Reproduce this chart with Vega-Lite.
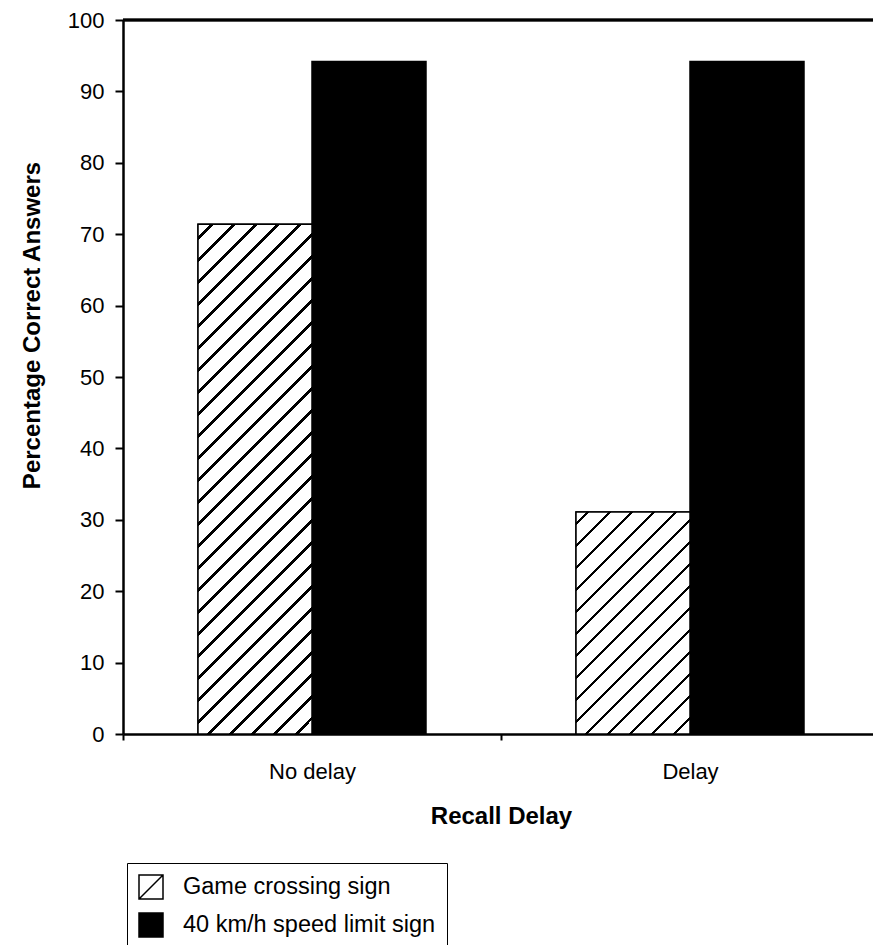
{
  "$schema": "https://vega.github.io/schema/vega-lite/v6.json",
  "width": 750,
  "height": 714,
  "autosize": {"type": "none"},
  "padding": {"left": 123, "top": 20, "right": 0, "bottom": 211},
  "background": "white",
  "config": {
    "view": {"stroke": null},
    "font": "Liberation Sans",
    "axis": {"labelFont": "Liberation Sans", "titleFont": "Liberation Sans", "labelColor": "black", "titleColor": "black", "domainColor": "black", "tickColor": "black", "grid": false},
    "legend": {"labelFont": "Liberation Sans", "labelColor": "black"}
  },
  "data": {
    "values": [
      {"delay": "No delay", "sign": "Game crossing sign", "pct": 71.4},
      {"delay": "No delay", "sign": "40 km/h speed limit sign", "pct": 94.2},
      {"delay": "Delay", "sign": "Game crossing sign", "pct": 31.1},
      {"delay": "Delay", "sign": "40 km/h speed limit sign", "pct": 94.2}
    ]
  },
  "layer": [
    {
      "encoding": {
        "x": {
          "field": "delay", "type": "nominal",
          "scale": {"domain": ["No delay", "Delay"], "range": [0, 756], "paddingInner": 0, "paddingOuter": 0},
          "axis": {"title": "Recall Delay", "titleFontSize": 24, "titleFontWeight": "bold", "titlePadding": 22, "labelFontSize": 22, "labelPadding": 21, "labelAngle": 0, "tickBand": "extent", "tickSize": 6, "tickWidth": 2, "domainWidth": 2.5}
        },
        "xOffset": {
          "field": "sign", "type": "nominal",
          "scale": {"domain": ["Game crossing sign", "40 km/h speed limit sign"], "paddingInner": 0, "paddingOuter": 0.658}
        },
        "y": {
          "field": "pct", "type": "quantitative",
          "scale": {"domain": [0, 100], "nice": false},
          "axis": {"title": "Percentage Correct Answers", "titleFontSize": 24, "titleFontWeight": "bold", "titleX": -79, "titleY": 305, "titleAngle": -90, "titleAlign": "center", "titleBaseline": "bottom", "labelFontSize": 22, "labelPadding": 11, "tickSize": 8, "tickWidth": 2, "domainWidth": 2.5, "values": [0, 10, 20, 30, 40, 50, 60, 70, 80, 90, 100]}
        }
      },
      "layer": [
        {
          "mark": {"type": "bar", "stroke": "black", "strokeWidth": 1.5},
          "encoding": {
            "color": {
              "field": "sign", "type": "nominal",
              "scale": {"domain": ["Game crossing sign", "40 km/h speed limit sign"], "range": ["white", "black"]},
              "legend": {
                "title": null, "orient": "none", "legendX": 4, "legendY": 843,
                "strokeColor": "black", "padding": 11, "rowPadding": 8,
                "symbolSize": 576, "labelFontSize": 23.5, "labelOffset": 19, "labelLimit": 600,
                "symbolStrokeColor": "black", "symbolStrokeWidth": 1.5,
                "encode": {
                  "symbols": {
                    "update": {
                      "shape": {"signal": "datum.value === 'Game crossing sign' ? 'M-1,-1H1V1H-1ZM-1,1L1,-1' : 'square'"},
                      "stroke": {"value": "black"},
                      "strokeWidth": {"value": 1.5},
                      "opacity": {"value": 1}
                    }
                  }
                }
              }
            }
          }
        },
        {
          "transform": [{"filter": "datum.delay === 'No delay' && datum.sign === 'Game crossing sign'"}],
          "mark": {
            "type": "bar", "stroke": "black", "strokeWidth": 1.5,
            "fill": {
              "gradient": "linear", "x1": 0, "y1": 0, "x2": 0.2606, "y2": 1.1653,
              "stops": [
                {"offset": 0.0200, "color": "white"}, {"offset": 0.0200, "color": "black"}, {"offset": 0.0256, "color": "black"}, {"offset": 0.0256, "color": "white"},
                {"offset": 0.0553, "color": "white"}, {"offset": 0.0553, "color": "black"}, {"offset": 0.0609, "color": "black"}, {"offset": 0.0609, "color": "white"},
                {"offset": 0.0905, "color": "white"}, {"offset": 0.0905, "color": "black"}, {"offset": 0.0961, "color": "black"}, {"offset": 0.0961, "color": "white"},
                {"offset": 0.1258, "color": "white"}, {"offset": 0.1258, "color": "black"}, {"offset": 0.1314, "color": "black"}, {"offset": 0.1314, "color": "white"},
                {"offset": 0.1610, "color": "white"}, {"offset": 0.1610, "color": "black"}, {"offset": 0.1666, "color": "black"}, {"offset": 0.1666, "color": "white"},
                {"offset": 0.1963, "color": "white"}, {"offset": 0.1963, "color": "black"}, {"offset": 0.2019, "color": "black"}, {"offset": 0.2019, "color": "white"},
                {"offset": 0.2316, "color": "white"}, {"offset": 0.2316, "color": "black"}, {"offset": 0.2372, "color": "black"}, {"offset": 0.2372, "color": "white"},
                {"offset": 0.2668, "color": "white"}, {"offset": 0.2668, "color": "black"}, {"offset": 0.2724, "color": "black"}, {"offset": 0.2724, "color": "white"},
                {"offset": 0.3021, "color": "white"}, {"offset": 0.3021, "color": "black"}, {"offset": 0.3077, "color": "black"}, {"offset": 0.3077, "color": "white"},
                {"offset": 0.3373, "color": "white"}, {"offset": 0.3373, "color": "black"}, {"offset": 0.3429, "color": "black"}, {"offset": 0.3429, "color": "white"},
                {"offset": 0.3726, "color": "white"}, {"offset": 0.3726, "color": "black"}, {"offset": 0.3782, "color": "black"}, {"offset": 0.3782, "color": "white"},
                {"offset": 0.4079, "color": "white"}, {"offset": 0.4079, "color": "black"}, {"offset": 0.4135, "color": "black"}, {"offset": 0.4135, "color": "white"},
                {"offset": 0.4431, "color": "white"}, {"offset": 0.4431, "color": "black"}, {"offset": 0.4487, "color": "black"}, {"offset": 0.4487, "color": "white"},
                {"offset": 0.4784, "color": "white"}, {"offset": 0.4784, "color": "black"}, {"offset": 0.4840, "color": "black"}, {"offset": 0.4840, "color": "white"},
                {"offset": 0.5136, "color": "white"}, {"offset": 0.5136, "color": "black"}, {"offset": 0.5192, "color": "black"}, {"offset": 0.5192, "color": "white"},
                {"offset": 0.5489, "color": "white"}, {"offset": 0.5489, "color": "black"}, {"offset": 0.5545, "color": "black"}, {"offset": 0.5545, "color": "white"},
                {"offset": 0.5842, "color": "white"}, {"offset": 0.5842, "color": "black"}, {"offset": 0.5898, "color": "black"}, {"offset": 0.5898, "color": "white"},
                {"offset": 0.6194, "color": "white"}, {"offset": 0.6194, "color": "black"}, {"offset": 0.6250, "color": "black"}, {"offset": 0.6250, "color": "white"},
                {"offset": 0.6547, "color": "white"}, {"offset": 0.6547, "color": "black"}, {"offset": 0.6603, "color": "black"}, {"offset": 0.6603, "color": "white"},
                {"offset": 0.6899, "color": "white"}, {"offset": 0.6899, "color": "black"}, {"offset": 0.6955, "color": "black"}, {"offset": 0.6955, "color": "white"},
                {"offset": 0.7252, "color": "white"}, {"offset": 0.7252, "color": "black"}, {"offset": 0.7308, "color": "black"}, {"offset": 0.7308, "color": "white"},
                {"offset": 0.7605, "color": "white"}, {"offset": 0.7605, "color": "black"}, {"offset": 0.7661, "color": "black"}, {"offset": 0.7661, "color": "white"},
                {"offset": 0.7957, "color": "white"}, {"offset": 0.7957, "color": "black"}, {"offset": 0.8013, "color": "black"}, {"offset": 0.8013, "color": "white"},
                {"offset": 0.8310, "color": "white"}, {"offset": 0.8310, "color": "black"}, {"offset": 0.8366, "color": "black"}, {"offset": 0.8366, "color": "white"},
                {"offset": 0.8662, "color": "white"}, {"offset": 0.8662, "color": "black"}, {"offset": 0.8718, "color": "black"}, {"offset": 0.8718, "color": "white"},
                {"offset": 0.9015, "color": "white"}, {"offset": 0.9015, "color": "black"}, {"offset": 0.9071, "color": "black"}, {"offset": 0.9071, "color": "white"},
                {"offset": 0.9368, "color": "white"}, {"offset": 0.9368, "color": "black"}, {"offset": 0.9424, "color": "black"}, {"offset": 0.9424, "color": "white"},
                {"offset": 0.9720, "color": "white"}, {"offset": 0.9720, "color": "black"}, {"offset": 0.9776, "color": "black"}, {"offset": 0.9776, "color": "white"}
              ]
            }
          }
        },
        {
          "transform": [{"filter": "datum.delay === 'Delay' && datum.sign === 'Game crossing sign'"}],
          "mark": {
            "type": "bar", "stroke": "black", "strokeWidth": 1.5,
            "fill": {
              "gradient": "linear", "x1": 0, "y1": 0, "x2": 0.6150, "y2": 1.1977,
              "stops": [
                {"offset": 0.0300, "color": "white"}, {"offset": 0.0300, "color": "black"}, {"offset": 0.0404, "color": "black"}, {"offset": 0.0404, "color": "white"},
                {"offset": 0.0955, "color": "white"}, {"offset": 0.0955, "color": "black"}, {"offset": 0.1059, "color": "black"}, {"offset": 0.1059, "color": "white"},
                {"offset": 0.1610, "color": "white"}, {"offset": 0.1610, "color": "black"}, {"offset": 0.1714, "color": "black"}, {"offset": 0.1714, "color": "white"},
                {"offset": 0.2264, "color": "white"}, {"offset": 0.2264, "color": "black"}, {"offset": 0.2368, "color": "black"}, {"offset": 0.2368, "color": "white"},
                {"offset": 0.2919, "color": "white"}, {"offset": 0.2919, "color": "black"}, {"offset": 0.3023, "color": "black"}, {"offset": 0.3023, "color": "white"},
                {"offset": 0.3574, "color": "white"}, {"offset": 0.3574, "color": "black"}, {"offset": 0.3678, "color": "black"}, {"offset": 0.3678, "color": "white"},
                {"offset": 0.4229, "color": "white"}, {"offset": 0.4229, "color": "black"}, {"offset": 0.4333, "color": "black"}, {"offset": 0.4333, "color": "white"},
                {"offset": 0.4884, "color": "white"}, {"offset": 0.4884, "color": "black"}, {"offset": 0.4988, "color": "black"}, {"offset": 0.4988, "color": "white"},
                {"offset": 0.5538, "color": "white"}, {"offset": 0.5538, "color": "black"}, {"offset": 0.5642, "color": "black"}, {"offset": 0.5642, "color": "white"},
                {"offset": 0.6193, "color": "white"}, {"offset": 0.6193, "color": "black"}, {"offset": 0.6297, "color": "black"}, {"offset": 0.6297, "color": "white"},
                {"offset": 0.6848, "color": "white"}, {"offset": 0.6848, "color": "black"}, {"offset": 0.6952, "color": "black"}, {"offset": 0.6952, "color": "white"},
                {"offset": 0.7503, "color": "white"}, {"offset": 0.7503, "color": "black"}, {"offset": 0.7607, "color": "black"}, {"offset": 0.7607, "color": "white"},
                {"offset": 0.8158, "color": "white"}, {"offset": 0.8158, "color": "black"}, {"offset": 0.8262, "color": "black"}, {"offset": 0.8262, "color": "white"},
                {"offset": 0.8812, "color": "white"}, {"offset": 0.8812, "color": "black"}, {"offset": 0.8916, "color": "black"}, {"offset": 0.8916, "color": "white"},
                {"offset": 0.9467, "color": "white"}, {"offset": 0.9467, "color": "black"}, {"offset": 0.9571, "color": "black"}, {"offset": 0.9571, "color": "white"}
              ]
            }
          }
        }
      ]
    },
    {
      "mark": {"type": "rule", "stroke": "black", "strokeWidth": 2.5},
      "encoding": {"y": {"datum": 100, "type": "quantitative"}}
    }
  ]
}
